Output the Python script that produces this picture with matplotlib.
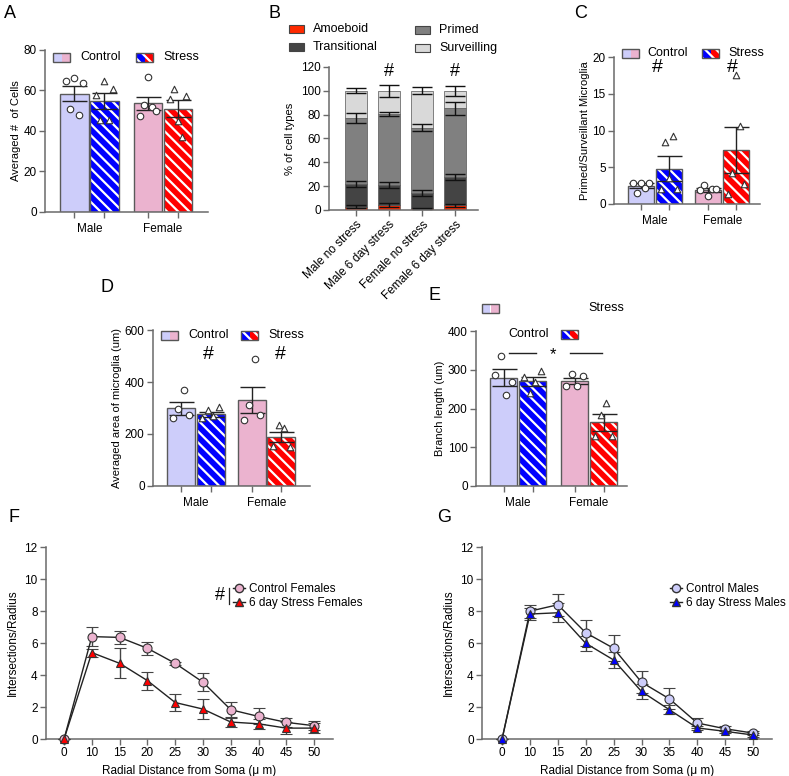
import numpy as np
import matplotlib
matplotlib.use('Agg')
import matplotlib.pyplot as plt
from matplotlib.patches import Rectangle
from matplotlib.lines import Line2D

plt.rcParams['font.family'] = ['Liberation Sans', 'DejaVu Sans']
plt.rcParams['hatch.linewidth'] = 1.6
plt.rcParams['axes.linewidth'] = 1.1

W, H = 789, 776
fig = plt.figure(figsize=(W / 100, H / 100), dpi=100)

# ---- data ----
groups = ['Male', 'Female']

# A: averaged number of cells
A_mean = [58.5, 54.8, 53.7, 51.0]
A_sem = [3.8, 3.8, 3.3, 4.3]
A_male_ctrl = [64.9, 50.7, 66.0, 47.9, 63.9]
A_male_stress = [57.8, 45.5, 64.7, 45.5, 60.6]
A_fem_ctrl = [47.6, 52.9, 66.8, 52.0, 49.9]
A_fem_stress = [55.7, 60.6, 44.7, 36.8, 57.5]

# B: % of cell types (stacked)
B_groups = ['Male no stress', 'Male 6 day stress', 'Female no stress', 'Female 6 day stress']
B_amoeboid = [2.8, 4.2, 1.4, 3.9]
B_amoeboid_sem = [1.0, 2.0, 0.5, 1.5]
B_transitional = [19.2, 16.8, 12.6, 24.1]
B_transitional_sem = [2.5, 2.5, 2.5, 2.5]
B_primed = [55, 59.5, 55, 57.5]
B_primed_sem = [4.0, 2.0, 3.0, 5.5]
B_surveilling = [23, 19.5, 31, 14.5]
B_surveilling_sem = [2.0, 5.0, 3.0, 4.0]

# C: primed / surveillant ratio
C_mean = [2.5, 4.8, 1.9, 7.35]
C_sem = [0.3, 1.7, 0.3, 3.1]
C_male_ctrl = [2.9, 1.5, 2.9, 2.2, 2.9]
C_male_stress = [2.0, 8.4, 3.5, 9.2, 2.0]
C_fem_ctrl = [1.9, 2.6, 1.1, 2.0, 2.0]
C_fem_stress = [1.4, 4.2, 17.5, 10.6, 2.7]

# D: averaged area of microglia
D_mean = [299, 276, 331, 188]
D_sem = [24, 10, 51, 20]
D_male_ctrl = [263, 296, 368, 273]
D_male_stress = [260, 292, 270, 303]
D_fem_ctrl = [254, 311, 487, 272]
D_fem_stress = [155, 235, 222, 150]

# E: branch length
E_mean = [280, 270, 271, 164]
E_sem = [21, 12, 8, 22]
E_male_ctrl = [287, 336, 236, 269]
E_male_stress = [282, 241, 268, 296]
E_fem_ctrl = [258, 288, 258, 283]
E_fem_stress = [129, 183, 213, 129]

# F / G: Sholl analysis
radii = ['0', '10', '15', '20', '25', '30', '35', '40', '45', '50']
F_ctrl = [0, 6.4, 6.35, 5.67, 4.73, 3.55, 1.83, 1.41, 1.04, 0.83]
F_ctrl_sem = [0, 0.58, 0.4, 0.4, 0.1, 0.55, 0.5, 0.5, 0.28, 0.27]
F_stress = [0, 5.4, 4.73, 3.65, 2.28, 1.87, 1.06, 0.95, 0.68, 0.68]
F_stress_sem = [0, 0.25, 0.93, 0.56, 0.52, 0.62, 0.32, 0.3, 0.38, 0.32]
G_ctrl = [0, 7.99, 8.39, 6.64, 5.67, 3.55, 2.51, 1.0, 0.64, 0.37]
G_ctrl_sem = [0, 0.4, 0.7, 0.8, 0.8, 0.7, 0.65, 0.3, 0.15, 0.1]
G_stress = [0, 7.81, 7.89, 5.98, 4.94, 2.97, 1.83, 0.69, 0.48, 0.25]
G_stress_sem = [0, 0.35, 0.6, 0.45, 0.5, 0.46, 0.27, 0.1, 0.1, 0.1]

# ---- styles ----
LAV = '#cdcdfa'
PINK = '#ebb3cf'
BLUE = '#0000ff'
RED = '#ff0000'
SPINE = '#6a6a6a'
FS = 8.5
HATCH = '\\\\\\'


def axes_px(l, t, r, b):
    return fig.add_axes([l / W, 1 - b / H, (r - l) / W, (b - t) / H])


def style(ax):
    for s in ['top', 'right']:
        ax.spines[s].set_visible(False)
    for s in ['left', 'bottom']:
        ax.spines[s].set_color(SPINE)
    ax.tick_params(which='major', length=4, width=1, color=SPINE, labelsize=FS, pad=2)


def panel_label(x, y, s):
    fig.text(x / W, 1 - y / H, s, fontsize=13, ha='left', va='center')


def fig_patch(x0, y, colors, hatch=None, w=17, h=9):
    for i, c in enumerate(colors):
        fig.add_artist(Rectangle(((x0 + i * w / 2) / W, 1 - (y + h / 2) / H), (w / 2) / W, h / H,
                                 facecolor=c, edgecolor='white' if hatch else 'none',
                                 hatch=hatch, lw=0))
    fig.add_artist(Rectangle((x0 / W, 1 - (y + h / 2) / H), w / W, h / H,
                             facecolor='none', edgecolor='#555555', lw=1))


def fig_text(x, y, s, **kw):
    fig.text(x / W, 1 - y / H, s, fontsize=kw.pop('fontsize', 8.5), va='center', **kw)


def bar_panel(ax, pos, means, sems, pts, width, ylim, yticks, ylabel):
    colors = [LAV, BLUE, PINK, RED]
    for i, (p, m, e, v) in enumerate(zip(pos, means, sems, pts)):
        if i % 2 == 1:
            ax.bar(p, m, width, color=colors[i], edgecolor='white', hatch=HATCH, lw=0, zorder=1)
        else:
            ax.bar(p, m, width, color=colors[i], lw=0, zorder=1)
        ax.bar(p, m, width, fill=False, edgecolor='#5a5a5a', lw=1.0, zorder=2)
        ax.errorbar(p, m, yerr=e, color='#222222', capsize=9, lw=1, capthick=1, zorder=3)
        xs = p + np.linspace(-0.28, 0.28, len(v))
        ax.scatter(xs, v, s=22, marker='o' if i % 2 == 0 else '^', facecolor='white',
                   edgecolor='#333333', lw=0.8, zorder=4, clip_on=False)
    style(ax)
    ax.set_ylim(*ylim)
    ax.set_yticks(yticks)
    ax.set_xticks(pos, [''] * 4)
    ax.set_xticks([(pos[0] + pos[1]) / 2, (pos[2] + pos[3]) / 2], groups, minor=True)
    ax.tick_params(axis='x', which='minor', length=0, labelsize=8.5, pad=8)
    ax.set_ylabel(ylabel, fontsize=8, labelpad=2)


pos4 = np.array([0, 1, 2.45, 3.45])

# ---- A ----
axA = axes_px(45, 50, 208, 212)
bar_panel(axA, pos4, A_mean, A_sem, [A_male_ctrl, A_male_stress, A_fem_ctrl, A_fem_stress],
          0.96, (0, 80), range(0, 81, 20), 'Averaged #  of Cells')
axA.set_xlim(-0.98, 4.45)
panel_label(4, 13, 'A')
fig_patch(53, 57, [LAV, PINK])
fig_text(80, 57, 'Control', fontsize=9)
fig_patch(136, 57, [BLUE, RED], hatch=HATCH)
fig_text(163, 57, 'Stress', fontsize=9)

# ---- B ----
axB = axes_px(329, 67, 478, 210)
xb = np.arange(4)
segs = [B_amoeboid, B_transitional, B_primed, B_surveilling]
sems = [B_amoeboid_sem, B_transitional_sem, B_primed_sem, B_surveilling_sem]
bcolors = ['#ff2a00', '#444444', '#808080', '#d9d9d9']
bottom = np.zeros(4)
for seg, sem, c in zip(segs, sems, bcolors):
    seg = np.array(seg, dtype=float)
    axB.bar(xb, seg, 0.66, bottom=bottom, color=c, edgecolor='#555555', lw=0.5)
    axB.errorbar(xb, bottom + seg, yerr=sem, fmt='none', ecolor='#111111', capsize=7, lw=1, capthick=1)
    bottom = bottom + seg
style(axB)
axB.set_xlim(-0.8, 3.68)
axB.set_ylim(0, 120)
axB.set_yticks(range(0, 121, 20))
axB.set_xticks(xb, B_groups, rotation=45, ha='right', rotation_mode='anchor', fontsize=8.5)
axB.set_ylabel('% of cell types', fontsize=8, labelpad=4)
for i in [1, 3]:
    axB.text(i, 116, '#', ha='center', va='center', fontsize=13)
panel_label(269, 13, 'B')
legB = [('Amoeboid', 289, 29, bcolors[0]), ('Transitional', 289, 47, bcolors[1]),
        ('Primed', 415, 30, bcolors[2]), ('Surveilling', 415, 48, bcolors[3])]
for name, x, y, c in legB:
    fig.add_artist(Rectangle((x / W, 1 - (y + 4) / H), 15 / W, 8 / H, facecolor=c,
                             edgecolor='#444444', lw=0.8))
    fig_text(x + 24, y, name, fontsize=9)

# ---- C ----
axC = axes_px(614, 57, 760, 204)
bar_panel(axC, np.array([0, 1, 2.4, 3.4]), C_mean, C_sem,
          [C_male_ctrl, C_male_stress, C_fem_ctrl, C_fem_stress],
          0.93, (0, 20), range(0, 21, 5), 'Primed/Surveillant Microglia')
axC.set_xlim(-0.96, 4.25)
for x in [0.57, 3.25]:
    axC.text(x, 18.6, '#', ha='center', va='center', fontsize=14)
panel_label(574, 13, 'C')
fig_patch(622, 53, [LAV, PINK])
fig_text(647, 53, 'Control', fontsize=9)
fig_patch(702, 53, [BLUE, RED], hatch=HATCH)
fig_text(728, 53, 'Stress', fontsize=9)

# ---- D ----
axD = axes_px(153, 330, 310, 486)
bar_panel(axD, np.array([0, 1, 2.4, 3.4]), D_mean, D_sem,
          [D_male_ctrl, D_male_stress, D_fem_ctrl, D_fem_stress],
          0.95, (0, 600), range(0, 601, 200), 'Averaged area of microglia (um)')
axD.set_xlim(-0.95, 4.37)
for x in [0.92, 3.36]:
    axD.text(x, 504, '#', ha='center', va='center', fontsize=14)
panel_label(100, 287, 'D')
fig_patch(161, 335, [LAV, PINK])
fig_text(188, 335, 'Control', fontsize=9)
fig_patch(241, 335, [BLUE, RED], hatch=HATCH)
fig_text(268, 335, 'Stress', fontsize=9)

# ---- E ----
axE = axes_px(476, 331, 627, 486)
bar_panel(axE, pos4, E_mean, E_sem, [E_male_ctrl, E_male_stress, E_fem_ctrl, E_fem_stress],
          0.96, (0, 400), range(0, 401, 100), 'Branch length (um)')
axE.set_xlim(-0.95, 4.26)
axE.plot([0.19, 1.12], [343, 343], color='#222222', lw=1)
axE.plot([2.29, 3.4], [343, 343], color='#222222', lw=1)
axE.text(1.7, 340, '*', ha='center', va='center', fontsize=12)
panel_label(429, 296, 'E')
fig_patch(482, 308, [LAV, PINK])
fig_text(588, 308, 'Stress', fontsize=9)
fig_text(508, 334, 'Control', fontsize=9)
fig_patch(561, 334, [BLUE, RED], hatch=HATCH)


# ---- F / G ----
def sholl(ax, ctrl, ctrl_sem, stress, stress_sem, ccol, scol, labels, xlim):
    x = np.arange(len(radii))
    ax.errorbar(x, ctrl, yerr=ctrl_sem, color='#222222', ecolor='#444444', lw=1, capsize=4,
                capthick=1, marker='o', ms=6.5, mfc=ccol, mec='#333333', mew=0.8,
                label=labels[0], zorder=3, clip_on=False)
    ax.errorbar(x, stress, yerr=stress_sem, color='#222222', ecolor='#444444', lw=1, capsize=4,
                capthick=1, marker='^', ms=6, mfc=scol, mec='#333333', mew=0.8,
                label=labels[1], zorder=3, clip_on=False)
    style(ax)
    ax.set_xlim(*xlim)
    ax.set_ylim(0, 12)
    ax.set_yticks(range(0, 13, 2))
    ax.set_xticks(x, radii)
    ax.tick_params(labelsize=8.5)
    ax.set_ylabel('Intersections/Radius', fontsize=8.5, labelpad=4)
    ax.set_xlabel('Radial Distance from Soma (\u03bc m)', fontsize=8.5, labelpad=4)


def sholl_legend(ax, hcols, labels, x, y):
    h = [Line2D([], [], color='#222222', lw=1, marker='o', ms=6, mfc=hcols[0], mec='#333333'),
         Line2D([], [], color='#222222', lw=1, marker='^', ms=5.5, mfc=hcols[1], mec='#333333')]
    ax.legend(h, labels, loc='upper left', bbox_to_anchor=(x, y), frameon=False,
              fontsize=8.5, handlelength=1.0, handletextpad=0.35, labelspacing=0.15,
              borderpad=0, borderaxespad=0)


axF = axes_px(46, 547, 333, 739)
sholl(axF, F_ctrl, F_ctrl_sem, F_stress, F_stress_sem, PINK, RED,
      ['Control Females', '6 day Stress Females'], (-0.65, 9.68))
sholl_legend(axF, [PINK, RED], ['Control Females', '6 day Stress Females'],
             (233 - 46) / 287, 1 - (583 - 547) / 192)
panel_label(8, 518, 'F')
fig_text(220, 595, '#', fontsize=13, ha='center')
fig.add_artist(Line2D([229 / W, 229 / W], [1 - 588 / H, 1 - 604 / H], color='#222222', lw=0.9))

axG = axes_px(482, 547, 772, 739)
sholl(axG, G_ctrl, G_ctrl_sem, G_stress, G_stress_sem, LAV, BLUE,
      ['Control Males', '6 day Stress Males'], (-0.72, 9.68))
sholl_legend(axG, [LAV, BLUE], ['Control Males', '6 day Stress Males'],
             (670 - 482) / 290, 1 - (583 - 547) / 192)
panel_label(437, 518, 'G')

fig.savefig('out.png', dpi=100)
